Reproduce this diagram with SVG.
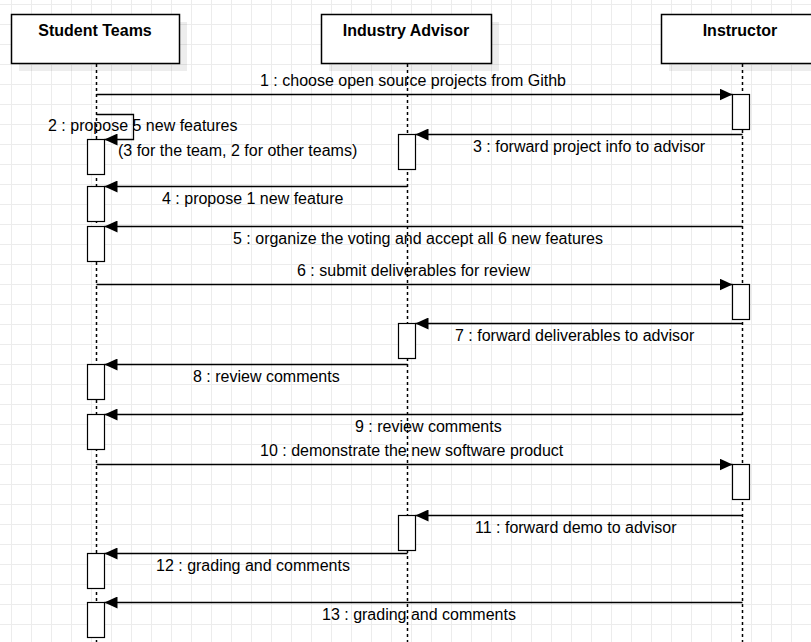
<svg xmlns="http://www.w3.org/2000/svg" width="811" height="642" viewBox="0 0 811 642">
  <style>
    .hdr { fill: #fff; stroke: #000; stroke-width: 1.5; }
    .shd { fill: #000; fill-opacity: 0.07; }
    .htxt { font-family: "Liberation Sans", Arial, sans-serif; font-size: 16px; font-weight: bold; fill: #000; text-anchor: middle; }
    .life { stroke: #000; stroke-width: 1.5; stroke-dasharray: 3 3; fill: none; }
    .act { fill: #fff; stroke: #000; stroke-width: 1.2; }
    .msg { stroke: #000; stroke-width: 1.3; fill: none; marker-end: url(#arr); }
    .lbl { font-family: "Liberation Sans", Arial, sans-serif; font-size: 16px; fill: #000; }
  </style>
  <defs>
    <pattern id="grid" x="11" y="4" width="20" height="20" patternUnits="userSpaceOnUse">
      <path d="M0 0.5 H20 M0.5 0 V20" stroke="#ececec" stroke-width="1" fill="none"/>
    </pattern>
    <marker id="arr" viewBox="0 0 13 12" refX="13" refY="6" markerWidth="13" markerHeight="12" markerUnits="userSpaceOnUse" orient="auto">
      <path d="M0 0 L13 6 L0 12 Z" fill="#000"/>
    </marker>
  </defs>
  <rect x="0" y="0" width="811" height="642" fill="#fff"/>
  <rect x="0" y="0" width="811" height="642" fill="url(#grid)"/>

  <g id="student-teams">
    <rect class="shd" x="19" y="22" width="168" height="49"/>
    <rect class="hdr" x="11.5" y="14.5" width="168" height="49"/>
    <text class="htxt" x="95" y="36">Student Teams</text>
    <line class="life" x1="96.5" y1="64" x2="96.5" y2="642"/>
    <rect class="act" x="87.5" y="139.5" width="17" height="35"/>
    <rect class="act" x="87.5" y="186.5" width="17" height="35"/>
    <rect class="act" x="87.5" y="226.5" width="17" height="35"/>
    <rect class="act" x="87.5" y="364.5" width="17" height="35"/>
    <rect class="act" x="87.5" y="414.5" width="17" height="35"/>
    <rect class="act" x="87.5" y="553.5" width="17" height="35"/>
    <rect class="act" x="87.5" y="602.5" width="17" height="35"/>
  </g>

  <g id="industry-advisor">
    <rect class="shd" x="329" y="22" width="170" height="49"/>
    <rect class="hdr" x="321.5" y="14.5" width="170" height="49"/>
    <text class="htxt" x="406" y="36">Industry Advisor</text>
    <line class="life" x1="407.5" y1="64" x2="407.5" y2="642"/>
    <rect class="act" x="398.5" y="134.5" width="17" height="35"/>
    <rect class="act" x="398.5" y="323.5" width="17" height="35"/>
    <rect class="act" x="398.5" y="515.5" width="17" height="35"/>
  </g>

  <g id="instructor">
    <rect class="shd" x="669" y="22" width="160" height="49"/>
    <rect class="hdr" x="661.5" y="14.5" width="160" height="49"/>
    <text class="htxt" x="740" y="36">Instructor</text>
    <line class="life" x1="742.5" y1="64" x2="742.5" y2="642"/>
    <rect class="act" x="732.5" y="94.5" width="17" height="35"/>
    <rect class="act" x="732.5" y="284.5" width="17" height="35"/>
    <rect class="act" x="732.5" y="464.5" width="17" height="35"/>
  </g>

  <g id="connectors">
    <path class="msg" d="M96.5 94.5 H732.5"/>
    <text class="lbl" x="260" y="86">1 : choose open source projects from Githb</text>

    <path class="msg" d="M96.5 114.5 H133.5 V139.5 H104.5"/>
    <text class="lbl" x="48" y="131">2 : propose 5 new features</text>
    <text class="lbl" x="118" y="156">(3 for the team, 2 for other teams)</text>

    <path class="msg" d="M742.5 134.5 H415.5"/>
    <text class="lbl" x="473" y="152">3 : forward project info to advisor</text>

    <path class="msg" d="M407.5 186.5 H104.5"/>
    <text class="lbl" x="162" y="204">4 : propose 1 new feature</text>

    <path class="msg" d="M742.5 226.5 H104.5"/>
    <text class="lbl" x="233" y="244">5 : organize the voting and accept all 6 new features</text>

    <path class="msg" d="M96.5 284.5 H732.5"/>
    <text class="lbl" x="297" y="276">6 : submit deliverables for review</text>

    <path class="msg" d="M742.5 323.5 H415.5"/>
    <text class="lbl" x="455" y="341">7 : forward deliverables to advisor</text>

    <path class="msg" d="M407.5 364.5 H104.5"/>
    <text class="lbl" x="193" y="382">8 : review comments</text>

    <path class="msg" d="M742.5 414.5 H104.5"/>
    <text class="lbl" x="355" y="432">9 : review comments</text>

    <path class="msg" d="M96.5 464.5 H732.5"/>
    <text class="lbl" x="260" y="456">10 : demonstrate the new software product</text>

    <path class="msg" d="M742.5 515.5 H415.5"/>
    <text class="lbl" x="475" y="533">11 : forward demo to advisor</text>

    <path class="msg" d="M407.5 553.5 H104.5"/>
    <text class="lbl" x="156" y="571">12 : grading and comments</text>

    <path class="msg" d="M742.5 602.5 H104.5"/>
    <text class="lbl" x="322" y="620">13 : grading and comments</text>
  </g>
</svg>
